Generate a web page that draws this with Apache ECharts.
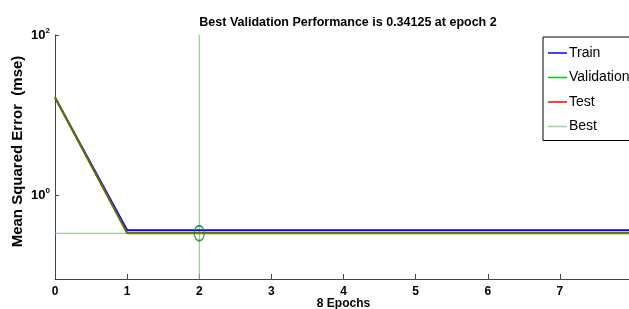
<!DOCTYPE html>
<html>
<head>
<meta charset="utf-8">
<script src="https://cdn.jsdelivr.net/npm/echarts@6/dist/echarts.min.js"></script>
<style>
  html, body { margin: 0; padding: 0; background: #fff; }
  #chart { width: 629px; height: 309px; }
</style>
</head>
<body>
<div id="chart"></div>
<script>
// training record
var epochs = [0, 1, 2, 3, 4, 5, 6, 7, 8];
var trainPerf = [16.7, 0.372, 0.372, 0.372, 0.372, 0.372, 0.372, 0.372, 0.372];
var valPerf = [16.7, 0.34125, 0.34125, 0.34125, 0.34125, 0.34125, 0.34125, 0.34125, 0.34125];
var testPerf = [16.7, 0.346, 0.346, 0.346, 0.346, 0.346, 0.346, 0.346, 0.346];
var bestEpoch = 2;
var bestPerf = 0.34125;
var yMin = 0.092, yMax = 100;
var xMin = 0, xMax = 8;
var seriesNames = ['Train', 'Validation', 'Test', 'Best'];
var seriesColors = ['#0000ff', '#00cc00', '#ff0000', '#9fd49f'];

var arial = "'Liberation Sans', Arial, sans-serif";

function pairs(ys) {
  return epochs.map(function (e, i) { return [e, ys[i]]; });
}

// ellipse marker like matlab's 'o' on a stretched axis
var ellipse = 'path://M0,10a10,10 0 1,0 20,0a10,10 0 1,0 -20,0';

var chart = echarts.init(document.getElementById('chart'));

var bestLine = { color: '#7cc47c', width: 1 };

var option = {
  backgroundColor: '#fff',
  animation: false,
  title: {
    text: 'Best Validation Performance is ' + bestPerf + ' at epoch ' + bestEpoch,
    left: 343,
    textAlign: 'center',
    top: 11,
    textStyle: { fontFamily: arial, fontSize: 12.5, fontWeight: 'bold', color: '#000' }
  },
  legend: {
    data: seriesNames.map(function (n, i) {
      return { name: n, icon: 'rect', itemStyle: { color: seriesColors[i] } };
    }),
    orient: 'vertical',
    left: 543,
    top: 37,
    itemGap: 10.5,
    itemWidth: 19,
    itemHeight: 1.5,
    padding: [9, 30, 7, 5],
    borderColor: '#000',
    borderWidth: 1,
    backgroundColor: '#fff',
    textStyle: { fontFamily: arial, fontSize: 14, color: '#000', padding: [0, 0, 0, -3] }
  },
  grid: { left: 55, right: -3, top: 35, bottom: 30, outerBoundsMode: 'none', containLabel: false },
  xAxis: {
    type: 'value',
    min: xMin,
    max: xMax,
    interval: 1,
    name: '8 Epochs',
    nameLocation: 'middle',
    nameGap: 19,
    nameMoveOverlap: false,
    nameTextStyle: { fontFamily: arial, fontSize: 12, fontWeight: 'bold', color: '#000' },
    axisLine: { lineStyle: { color: '#444', width: 1 } },
    axisTick: { inside: true, length: 5, lineStyle: { color: '#444' } },
    axisLabel: { fontFamily: arial, fontSize: 12, fontWeight: 'bold', color: '#000', margin: 7, showMaxLabel: false },
    splitLine: { show: false }
  },
  yAxis: {
    type: 'log',
    logBase: 100,
    min: yMin,
    max: yMax,
    name: 'Mean Squared Error  (mse)',
    nameLocation: 'middle',
    nameGap: 30,
    nameMoveOverlap: false,
    nameTextStyle: { fontFamily: arial, fontSize: 15, fontWeight: 'bold', color: '#000', padding: [0, 0, 0, 11] },
    axisLine: { show: true, lineStyle: { color: '#444', width: 1 } },
    axisTick: { show: true, inside: true, length: 4, lineStyle: { color: '#444' } },
    splitLine: { show: false },
    axisLabel: {
      margin: 5,
      formatter: function (v) {
        var e = Math.log10(v);
        if (Math.abs(e - Math.round(e)) > 1e-6) return '';
        return '{b|10}{s|' + Math.round(e) + '}';
      },
      rich: {
        b: { fontFamily: arial, fontSize: 13, fontWeight: 'bold', color: '#000' },
        s: { fontFamily: arial, fontSize: 8, fontWeight: 'bold', color: '#000', padding: [0, 0, 9, 0] }
      }
    }
  },
  series: [
    {
      name: 'Best', type: 'line', data: [[bestEpoch, yMin], [bestEpoch, yMax]], symbol: 'none',
      lineStyle: bestLine, itemStyle: { color: bestLine.color }, z: 1
    },
    {
      name: 'Best', type: 'line', data: [[xMin, bestPerf], [xMax, bestPerf]], symbol: 'none',
      lineStyle: bestLine, itemStyle: { color: bestLine.color }, z: 1
    },
    {
      name: 'Train', type: 'line', data: pairs(trainPerf), symbol: 'none',
      lineStyle: { color: seriesColors[0], width: 2 }
    },
    {
      name: 'Validation', type: 'line', data: pairs(valPerf), symbol: 'none',
      lineStyle: { color: seriesColors[1], width: 2 }
    },
    {
      name: 'Test', type: 'line', data: pairs(testPerf), symbol: 'none',
      lineStyle: { color: '#c03000', width: 1.5, opacity: 0.8 }
    },
    {
      name: 'bestPoint', type: 'scatter', data: [[bestEpoch, bestPerf]],
      symbol: ellipse, symbolSize: [10, 15], z: 5,
      itemStyle: { color: 'rgba(0,0,0,0)', borderColor: '#108a10', borderWidth: 1.5 }
    }
  ]
};

chart.setOption(option);
</script>
</body>
</html>
